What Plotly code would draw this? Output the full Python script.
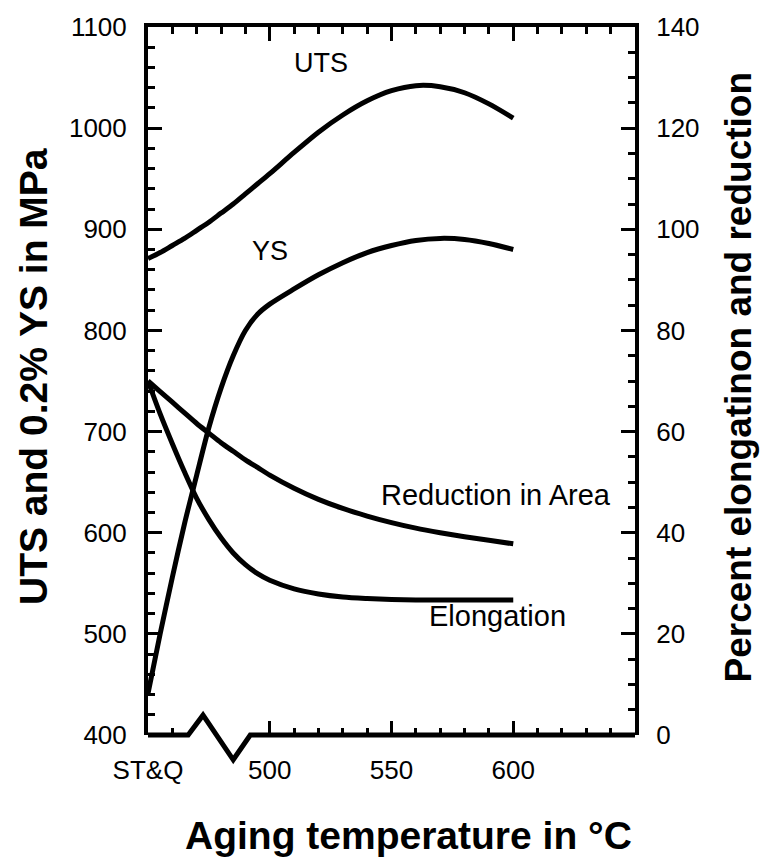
import plotly.graph_objects as go

# Aging temperature positions (°C); 450 stands for the solution-treated & quenched state
temps = [450, 455, 460, 465, 470, 475, 480, 485, 490, 495, 500, 510, 520, 530, 540, 550, 560, 570, 580, 590, 600]

# Strength values (MPa)
uts = [871, 877, 884, 891, 899, 907, 916, 925, 935, 945, 955, 976, 996, 1013, 1027, 1037, 1042, 1041, 1035, 1024, 1010]
ys = [441, 500, 556, 609, 657, 704, 743, 775, 800, 816, 826, 841, 855, 867, 877, 884, 889, 891, 890, 886, 880]

# Ductility values (%)
reduction_area = [70, 67.9, 65.8, 63.7, 61.6, 59.7, 57.8, 56.1, 54.4, 52.9, 51.4, 48.8, 46.6, 44.8, 43.3, 42.0, 40.9, 40.0, 39.2, 38.5, 37.8]
elongation = [70, 63.5, 57.6, 52.0, 46.8, 42.6, 39.0, 36.0, 33.7, 31.9, 30.6, 28.9, 27.9, 27.3, 27.0, 26.8, 26.7, 26.7, 26.7, 26.7, 26.7]

# Axis ticks
x_tickvals = [450, 500, 550, 600]
x_ticktext = ["ST&Q", "500", "550", "600"]
x_minor_bottom = [460, 510, 520, 530, 540, 560, 570, 580, 590, 610, 620, 630, 640]

FONT = "Arial, Liberation Sans, Helvetica, sans-serif"
BLACK = "#000000"
LW = 5

fig = go.Figure()

line_style = dict(color=BLACK, width=LW, shape="spline", smoothing=0.8)
fig.add_trace(go.Scatter(x=temps, y=uts, mode="lines", name="UTS", line=line_style))
fig.add_trace(go.Scatter(x=temps, y=ys, mode="lines", name="YS", line=line_style))
fig.add_trace(go.Scatter(x=temps, y=reduction_area, mode="lines", name="Reduction in Area",
                         yaxis="y2", line=line_style))
fig.add_trace(go.Scatter(x=temps, y=elongation, mode="lines", name="Elongation",
                         yaxis="y2", line=line_style))
# anchor for the top tick axis
fig.add_trace(go.Scatter(x=[450, 650], y=[None, None], xaxis="x2", mode="lines",
                         showlegend=False, hoverinfo="skip"))

tickfont = dict(family=FONT, size=26, color=BLACK)

fig.update_layout(
    width=762, height=861,
    margin=dict(l=148, r=127, t=23, b=126),
    paper_bgcolor="white", plot_bgcolor="white",
    showlegend=False,
    xaxis=dict(range=[450, 650], showline=False, showgrid=False, zeroline=False,
               tickmode="array", tickvals=x_tickvals, ticktext=x_ticktext,
               ticks="inside", ticklen=14, tickwidth=3, tickcolor=BLACK,
               tickfont=tickfont, ticklabelstandoff=17,
               minor=dict(tickmode="array", tickvals=x_minor_bottom, ticks="inside",
                          ticklen=7, tickwidth=3, tickcolor=BLACK, showgrid=False)),
    xaxis2=dict(range=[450, 650], overlaying="x", side="top", anchor="y",
                showline=True, linewidth=4, linecolor=BLACK, showgrid=False, zeroline=False,
                tickmode="array", tickvals=[500, 550, 600], showticklabels=False,
                ticks="inside", ticklen=14, tickwidth=3, tickcolor=BLACK,
                minor=dict(tick0=450, dtick=10, ticks="inside", ticklen=7,
                           tickwidth=3, tickcolor=BLACK, showgrid=False)),
    yaxis=dict(range=[400, 1100], showline=True, linewidth=4, linecolor=BLACK,
               showgrid=False, zeroline=False, dtick=100, tick0=400,
               ticks="inside", ticklen=14, tickwidth=3, tickcolor=BLACK,
               tickfont=tickfont, ticklabelstandoff=12,
               minor=dict(dtick=20, ticks="inside", ticklen=7, tickwidth=3,
                          tickcolor=BLACK, showgrid=False)),
    yaxis2=dict(range=[0, 140], overlaying="y", side="right", anchor="x",
                showline=True, linewidth=4, linecolor=BLACK,
                showgrid=False, zeroline=False, dtick=20, tick0=0,
                ticks="inside", ticklen=14, tickwidth=3, tickcolor=BLACK,
                tickfont=tickfont, ticklabelstandoff=12,
                minor=dict(dtick=5, ticks="inside", ticklen=7, tickwidth=3,
                           tickcolor=BLACK, showgrid=False)),
)

# Bottom axis line with a break symbol between ST&Q and 500 °C
fig.add_shape(type="path", xref="x", yref="paper", layer="above",
              path="M 450,0 L 466.5,0 L 472.6,0.028 L 485,-0.035 L 492,0 L 650,0",
              line=dict(color=BLACK, width=5))

# Curve labels
for text, x, y, yref, size in [("UTS", 521, 1064, "y", 27), ("YS", 500, 879, "y", 27),
                               ("Reduction in Area", 593, 47.5, "y2", 29),
                               ("Elongation", 593.5, 23.5, "y2", 29)]:
    fig.add_annotation(text=text, x=x, y=y, xref="x", yref=yref, showarrow=False,
                       font=dict(family=FONT, size=size, color=BLACK),
                       xanchor="center", yanchor="middle")

# Axis titles
fig.add_annotation(text="Aging temperature in °C", xref="paper", yref="paper",
                   x=(408 - 148) / 487, y=(735 - 836) / 712, showarrow=False,
                   font=dict(family=FONT, size=39, color=BLACK, weight="bold"),
                   xanchor="center", yanchor="middle")
fig.add_annotation(text="UTS and 0.2% YS in MPa", xref="paper", yref="paper",
                   x=(33 - 148) / 487, y=(735 - 375) / 712, showarrow=False, textangle=-90,
                   font=dict(family=FONT, size=39, color=BLACK, weight="bold"),
                   xanchor="center", yanchor="middle")
fig.add_annotation(text="Percent elongatinon and reduction", xref="paper", yref="paper",
                   x=(761 - 148) / 487, y=(735 - 375) / 712, showarrow=False, textangle=-90,
                   font=dict(family=FONT, size=37, color=BLACK, weight="bold"),
                   xanchor="right", yanchor="middle")

fig.write_html("out.html")
